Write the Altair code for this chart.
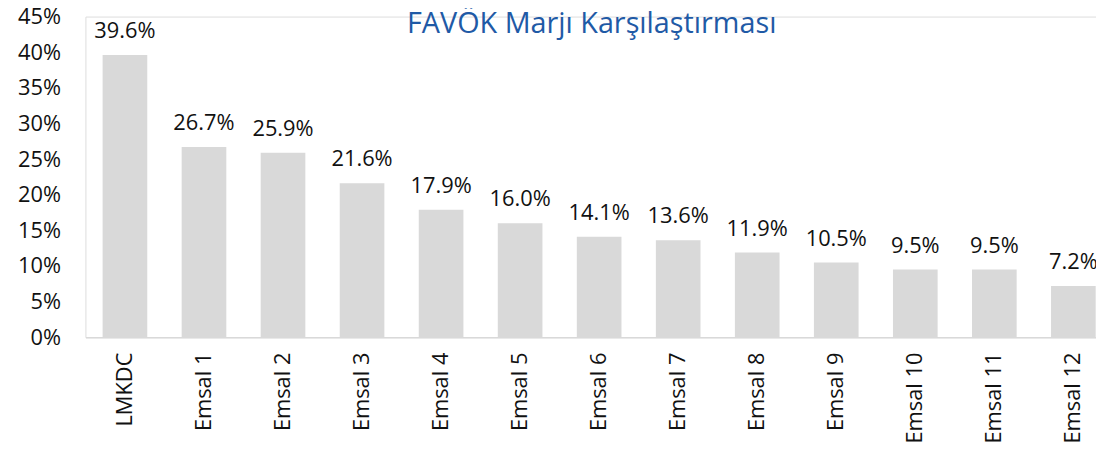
import altair as alt
import pandas as pd

categories = ["LMKDC", "Emsal 1", "Emsal 2", "Emsal 3", "Emsal 4", "Emsal 5", "Emsal 6",
              "Emsal 7", "Emsal 8", "Emsal 9", "Emsal 10", "Emsal 11", "Emsal 12"]
margins = [0.396, 0.267, 0.259, 0.216, 0.179, 0.160, 0.141, 0.136, 0.119, 0.105, 0.095, 0.095, 0.072]
y_ticks = [0, 0.05, 0.10, 0.15, 0.20, 0.25, 0.30, 0.35, 0.40, 0.45]
title_text = ["FAVÖK Marjı Karşılaştırması"]

df = pd.DataFrame({"kategori": categories, "marj": margins})
title_df = pd.DataFrame({"baslik": title_text})

FONT = "Open Sans"
TXT = "#111111"

x_enc = alt.X(
    "kategori:N",
    sort=categories,
    scale=alt.Scale(type="band", range=[0, 1035], paddingInner=0.435, paddingOuter=0.2175),
    axis=alt.Axis(
        title=None, labelAngle=-90, labelFont=FONT, labelFontSize=22, labelColor=TXT,
        labelPadding=15, ticks=False, tickSize=0, domainColor="#D9D9D9", domainWidth=1.5,
        grid=False, labelOverlap=False,
    ),
)
y_enc = alt.Y(
    "marj:Q",
    scale=alt.Scale(domain=[0, 0.45], nice=False, zero=True),
    axis=alt.Axis(
        title=None, values=y_ticks, format=".0%", labelFont=FONT, labelFontSize=22,
        labelColor=TXT, labelPadding=25, ticks=False, tickSize=0, domain=False, grid=False,
    ),
)

bars = alt.Chart(df).mark_bar(color="#D9D9D9").encode(x=x_enc, y=y_enc)
labels = alt.Chart(df).mark_text(
    font=FONT, fontSize=22, color=TXT, baseline="alphabetic", dy=-17
).encode(x=x_enc, y=y_enc, text=alt.Text("marj:Q", format=".1%"))

title = alt.Chart(title_df).mark_text(
    font=FONT, fontSize=29, color="#1F5AA6", baseline="alphabetic", align="center"
).encode(text="baslik:N", x=alt.value(510), y=alt.value(17))

chart = (
    alt.layer(bars, labels, title)
    .properties(
        width=1018,
        height=323,
        padding={"left": 78, "top": 7, "right": 0, "bottom": 110},
        autosize=alt.AutoSizeParams(type="none"),
    )
    .configure_view(stroke=None)
    .configure(background="white")
)

chart.save("out.html", embed_options={"renderer": "svg", "actions": False})
